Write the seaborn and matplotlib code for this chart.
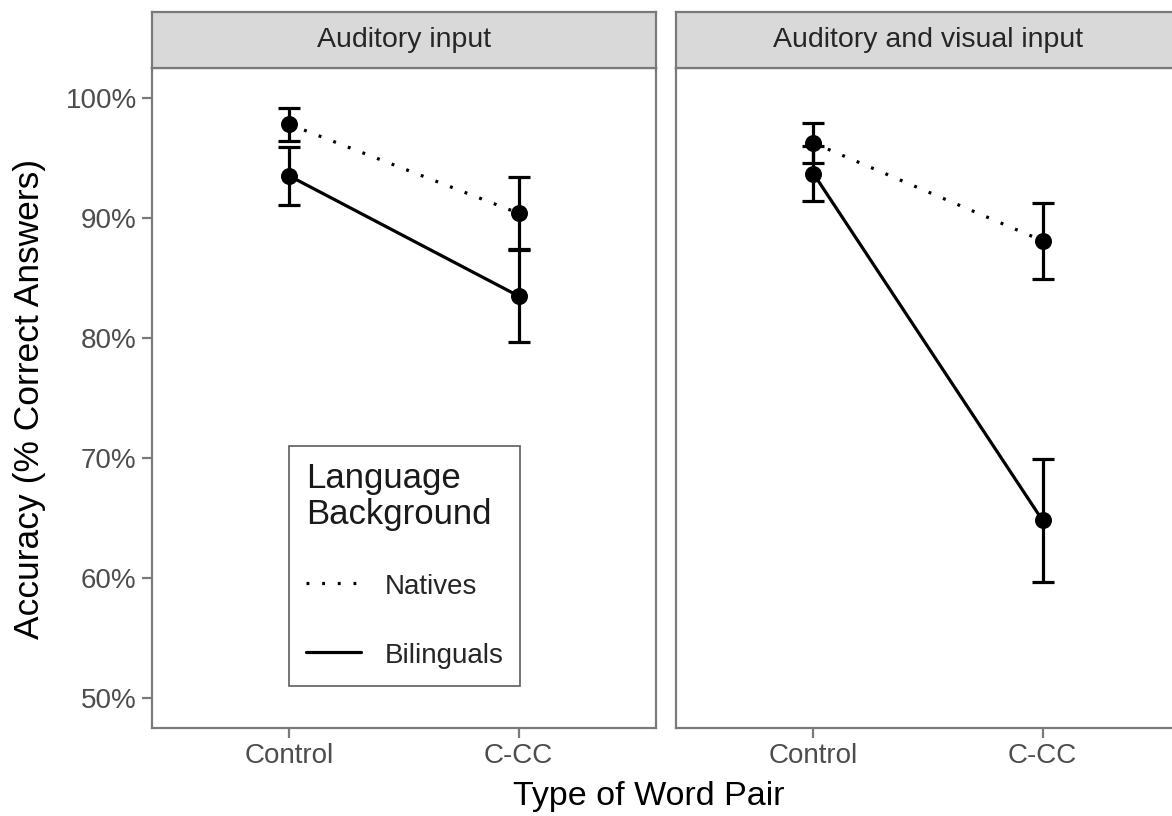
import matplotlib
matplotlib.use("Agg")
import matplotlib.pyplot as plt
from matplotlib.lines import Line2D
import seaborn as sns
import pandas as pd

# values (accuracy in %, error = half bar length)
pairs = ['Control', 'C-CC']
groups = ['Natives', 'Bilinguals']
panels = ['Auditory input', 'Auditory and visual input']

natives_aud = [97.8, 90.4]
natives_aud_err = [1.4, 3.0]
bilinguals_aud = [93.5, 83.5]
bilinguals_aud_err = [2.45, 3.8]

natives_av = [96.25, 88.1]
natives_av_err = [1.65, 3.15]
bilinguals_av = [93.7, 64.8]
bilinguals_av_err = [2.3, 5.1]

y_ticks = [50, 60, 70, 80, 90, 100]

rows = []
for panel, series in zip(panels, [
        [(natives_aud, natives_aud_err), (bilinguals_aud, bilinguals_aud_err)],
        [(natives_av, natives_av_err), (bilinguals_av, bilinguals_av_err)]]):
    for group, (vals, errs) in zip(groups, series):
        for pair, v, e in zip(pairs, vals, errs):
            rows.append({'panel': panel, 'group': group, 'pair': pair, 'acc': v, 'err': e})
df = pd.DataFrame(rows)

sns.set_theme(style='white')
plt.rcParams['font.family'] = ['Liberation Sans', 'DejaVu Sans']

W, H = 1172, 816
fig = plt.figure(figsize=(W / 100, H / 100), dpi=100)

dotted = (0, (0.9, 4.0))
line_styles = {'Natives': dotted, 'Bilinguals': '-'}
lw = 2.3
frame_col = '#7a7a7a'
tick_col = '#4d4d4d'

ax_left = [152, 676]
for i, panel in enumerate(panels):
    ax = fig.add_axes([ax_left[i] / W, 88 / H, 504 / W, 660 / H])
    sub = df[df['panel'] == panel]
    sns.pointplot(data=sub, x='pair', y='acc', hue='group', order=pairs, hue_order=groups,
                  palette=['black', 'black'], markers=['o', 'o'],
                  linestyles=[line_styles[g] for g in groups], errorbar=None,
                  ax=ax, legend=False, markersize=10.5, linewidth=lw)
    for g in groups:
        gs = sub[sub['group'] == g].set_index('pair').loc[pairs]
        ax.errorbar(x=[0, 1], y=gs['acc'], yerr=gs['err'], fmt='none', ecolor='black',
                    elinewidth=lw, capsize=8, capthick=lw, zorder=5)
    ax.set_xlim(-0.6, 1.6)
    ax.set_ylim(47.5, 102.5)
    ax.set_xlabel('')
    ax.set_ylabel('')
    ax.set_yticks(y_ticks)
    ax.set_xticks([0, 1])
    ax.set_xticklabels(pairs)
    for s in ax.spines.values():
        s.set_color(frame_col)
        s.set_linewidth(1.6)
    ax.tick_params(axis='x', length=7, width=1.6, color=frame_col, labelcolor=tick_col,
                   labelsize=20, pad=4, bottom=True)
    if i == 0:
        ax.set_yticklabels([f'{t}%' for t in y_ticks])
        ax.tick_params(axis='y', length=7, width=1.6, color=frame_col, labelcolor=tick_col,
                       labelsize=20, pad=4, left=True)
    else:
        ax.tick_params(axis='y', left=False, labelleft=False)

    # facet strip
    sax = fig.add_axes([ax_left[i] / W, 748 / H, 504 / W, 56 / H])
    sax.set_facecolor('#d9d9d9')
    sax.set_xticks([])
    sax.set_yticks([])
    for s in sax.spines.values():
        s.set_color(frame_col)
        s.set_linewidth(1.6)
    sax.text(0.5, 0.5, panel, ha='center', va='center', fontsize=20.5, color='#262626',
             transform=sax.transAxes)

    if i == 0:
        handles = [Line2D([], [], color='black', linestyle=line_styles[g], linewidth=lw)
                   for g in groups]
        leg = ax.legend(handles, groups, title='Language\nBackground', loc='lower left',
                        bbox_to_anchor=(0.272, 0.064), borderaxespad=0, frameon=True,
                        fancybox=False, fontsize=20, title_fontsize=25, handlelength=2.0,
                        handleheight=1.1, handletextpad=0.85, labelspacing=1.45,
                        borderpad=0.6, alignment='left')
        leg.get_frame().set_edgecolor('#333333')
        leg.get_frame().set_linewidth(1.2)
        leg.get_title().set_color('#1a1a1a')
        leg.get_title().set_linespacing(1.1)

fig.text(30 / W, 1 - 399 / H, 'Accuracy (% Correct Answers)', rotation=90,
         ha='center', va='center', fontsize=25.5, color='black')
fig.text(649 / W, 1 - 797 / H, 'Type of Word Pair', ha='center', va='center',
         fontsize=24.5, color='black')

fig.savefig('out.png', dpi=100)
